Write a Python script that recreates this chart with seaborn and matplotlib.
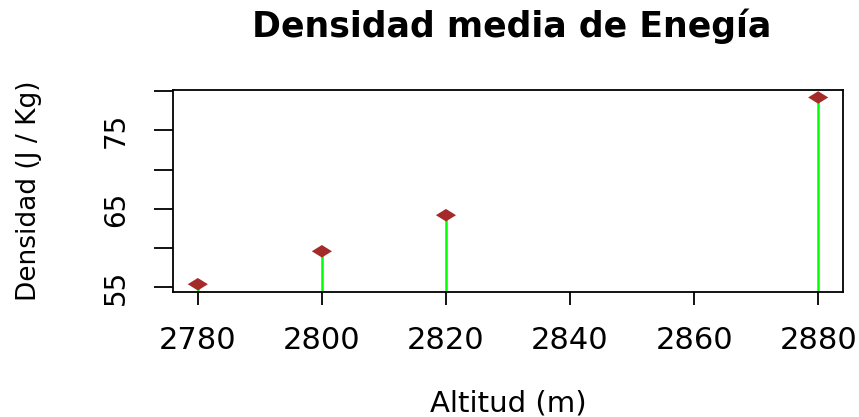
import matplotlib
matplotlib.use("Agg")
import matplotlib.pyplot as plt
import seaborn as sns
import pandas as pd

# Mean energy density by altitude
altitud = [2780, 2800, 2820, 2880]
densidad = [55.4, 59.6, 64.2, 79.2]
xticks = [2780, 2800, 2820, 2840, 2860, 2880]
yticks = [55, 60, 65, 70, 75, 80]
ytick_labels = ["55", "", "65", "", "75", ""]

titulo = "Densidad media de Enegía"
xlab = "Altitud (m)"
ylab = "Densidad (J / Kg)"

df = pd.DataFrame({"altitud": altitud, "densidad": densidad})

sns.set_theme(style="white")
plt.rcParams["font.family"] = ["DejaVu Sans"]

fig = plt.figure(figsize=(8.59, 4.17), dpi=100)
ax = fig.add_axes([173 / 859, 1 - 291.7 / 417, 670 / 859, 201.7 / 417])

# axis ranges padded by 4% like base R
xr = max(altitud) - min(altitud)
yr = max(densidad) - min(densidad)
ax.set_xlim(min(altitud) - 0.04 * xr, max(altitud) + 0.04 * xr)
ax.set_ylim(min(densidad) - 0.04 * yr, max(densidad) + 0.04 * yr)

# vertical "histogram-like" lines from zero to each value
ax.vlines(df["altitud"], 0, df["densidad"], colors="#00FF00", linewidth=1.8, zorder=2)

diamond = [(-1, 0), (0, 0.62), (1, 0), (0, -0.62), (-1, 0)]
sns.scatterplot(data=df, x="altitud", y="densidad", ax=ax, marker=diamond,
                s=210, color="#A52A2A", edgecolor="none", zorder=3, legend=False)

for sp in ax.spines.values():
    sp.set_visible(True)
    sp.set_color("black")
    sp.set_linewidth(1.3)

ax.set_xticks(xticks)
ax.set_xticklabels([str(t) for t in xticks])
ax.set_yticks(yticks)
ax.set_yticklabels(ytick_labels, rotation=90, va="center")

ax.tick_params(axis="x", bottom=True, length=9.5, width=1.3, color="black",
               labelsize=22, pad=15, labelcolor="black")
ax.tick_params(axis="y", left=True, length=14, width=1.3, color="black",
               labelsize=20, pad=17, labelcolor="black")

ax.set_xlabel(xlab, fontsize=21, color="black")
ax.set_ylabel(ylab, fontsize=19, color="black")
ax.xaxis.set_label_coords(0.5, -0.596)
ax.xaxis.label.set_va("baseline")
ax.yaxis.set_label_coords(-0.195, 0.5)

fig.text(0.596, 1 - 37 / 417, titulo, ha="center", va="baseline",
         fontsize=25, fontweight="bold", color="black")

fig.savefig("out.png", dpi=100, facecolor="white")
